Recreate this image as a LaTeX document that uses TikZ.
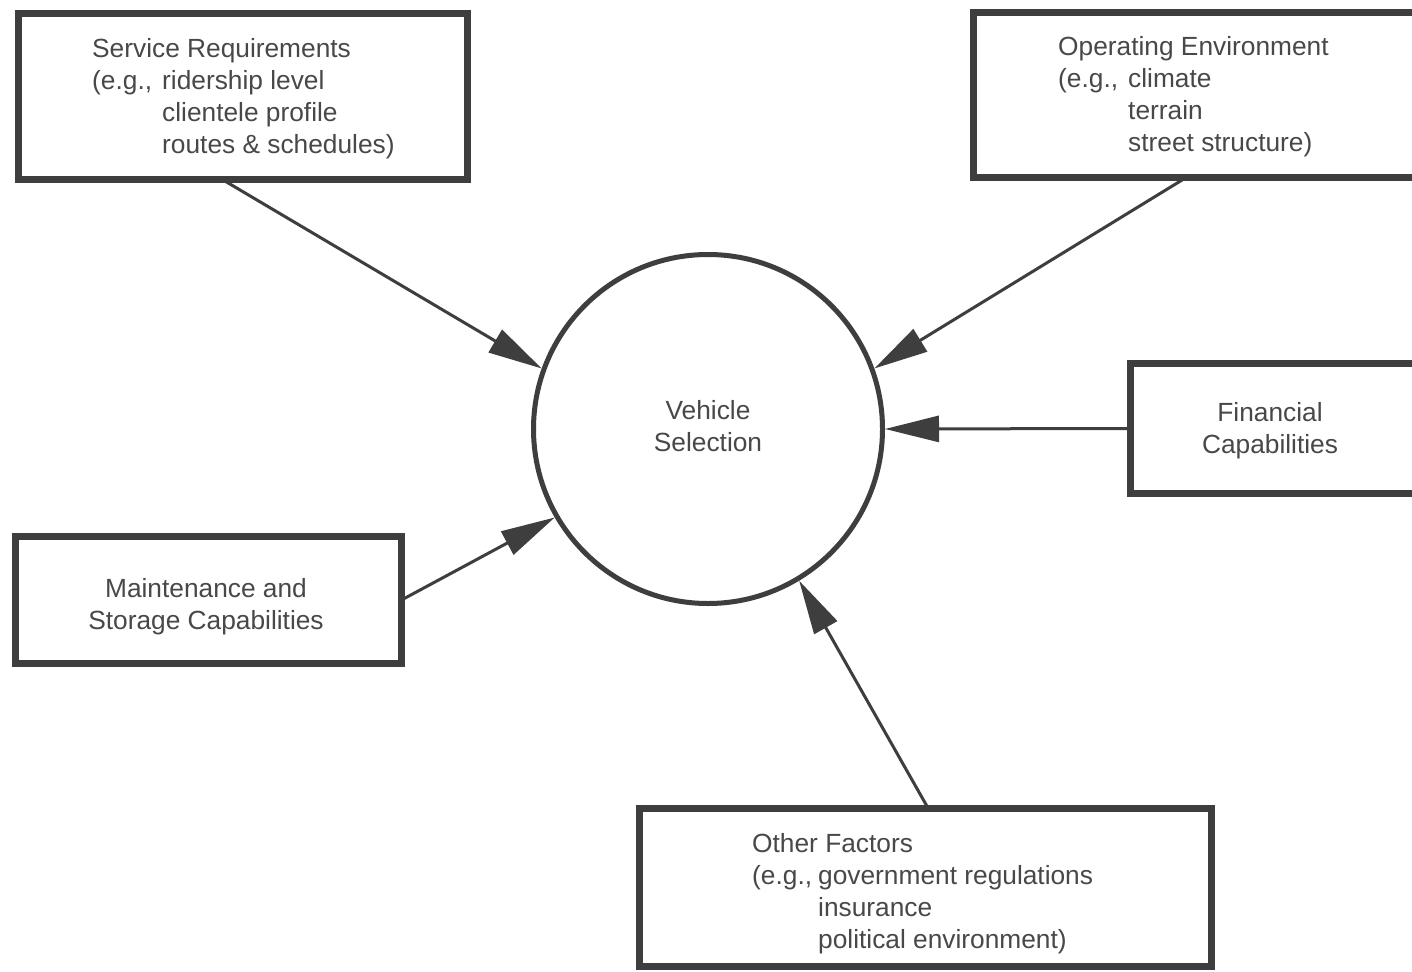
\documentclass[tikz,border=0pt]{standalone}
\usepackage{fontspec}
\setmainfont{Liberation Sans}
\usetikzlibrary{arrows.meta}
\definecolor{ink}{RGB}{62,62,62}
\definecolor{textink}{RGB}{72,72,72}
\begin{document}
\begin{tikzpicture}[x=1pt,y=-1pt,
  box/.style={draw=ink,line width=7pt,rectangle,inner sep=0pt,outer sep=0pt},
  txt/.style={text=textink,inner sep=0pt,font=\fontsize{26.3}{32}\selectfont},
  hub/.style={draw=ink,line width=5pt,circle,inner sep=0pt,minimum size=349pt,text=textink,font=\fontsize{26.3}{32}\selectfont},
  link/.style={draw=ink,line width=3pt,-{Triangle[length=54pt,width=26pt]}}]
\useasboundingbox (0,0) rectangle (1412,971);
\clip (0,0) rectangle (1412,971);
\fill[white] (0,0) rectangle (1412,971);
% boxes
\node[box,minimum width=449pt,minimum height=166pt] (b1) at (243,96.5) {};
\node[box,minimum width=466.5pt,minimum height=165pt] (b2) at (1206.75,95) {};
\node[box,minimum width=309.5pt,minimum height=130pt] (fin) at (1285.25,428.5) {};
\node[box,minimum width=386pt,minimum height=127pt] (mnt) at (208.5,600) {};
\node[box,minimum width=572pt,minimum height=158pt] (oth) at (925.5,887.5) {};
\node[hub] (vs) at (708,429) {\begin{tabular}{@{}c@{}}Vehicle\\Selection\end{tabular}};
% texts
\node[txt,anchor=base west] (t1) at (92,58) {\begin{tabular}[t]{@{}l@{}}Service Requirements\\
\makebox[70pt][l]{(e.g.,}ridership level\\
\hspace*{70pt}clientele profile\\
\hspace*{70pt}routes \& schedules)\end{tabular}};
\node[txt,anchor=base west] (t2) at (1058,56) {\begin{tabular}[t]{@{}l@{}}Operating Environment\\
\makebox[70pt][l]{(e.g.,}climate\\
\hspace*{70pt}terrain\\
\hspace*{70pt}street structure)\end{tabular}};
\node[txt,anchor=base] (t3) at (1270,421) {\begin{tabular}[t]{@{}c@{}}Financial\\Capabilities\end{tabular}};
\node[txt,anchor=base] (t4) at (206,597) {\begin{tabular}[t]{@{}c@{}}Maintenance and\\Storage Capabilities\end{tabular}};
\node[txt,anchor=base west] (t5) at (752,852) {\begin{tabular}[t]{@{}l@{}}Other Factors\\
\makebox[66pt][l]{(e.g.,}government regulations\\
\hspace*{66pt}insurance\\
\hspace*{66pt}political environment)\end{tabular}};
% connectors
\draw[link] (b1.-104.2) -- (vs.160);
\draw[link] (b2.-104.8) -- (vs.20);
\draw[link] (fin.west) -- (vs.east);
\draw[link] (mnt.east) -- (vs.-150);
\draw[link] (oth.88.2) -- (vs.-59);
\end{tikzpicture}
\end{document}
